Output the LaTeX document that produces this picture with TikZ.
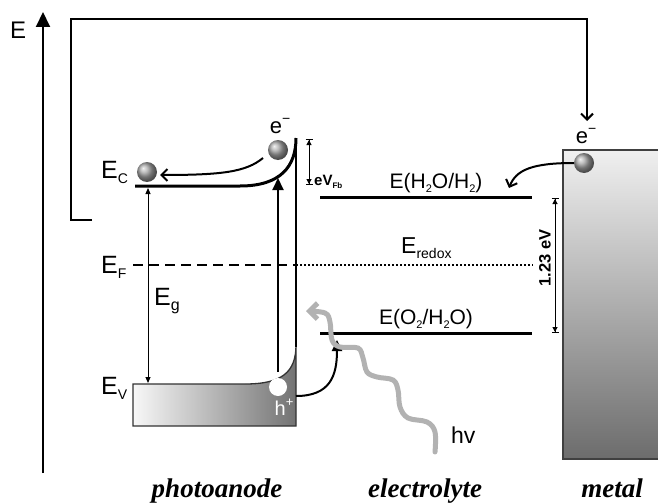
\documentclass[tikz,border=0pt]{standalone}
\usepackage{fontspec}
\setmainfont{Liberation Sans}
\newfontfamily\regionfont{Liberation Serif}
\usetikzlibrary{arrows.meta,shadings}
\newcommand\mysub[2]{\raisebox{-0.22em}{\fontsize{#1}{#1}\selectfont #2}}
\newcommand\mysup[2]{\raisebox{0.42em}{\fontsize{#1}{#1}\selectfont #2}}
\begin{document}
\begin{tikzpicture}[x=1pt,y=-1pt,
  lab/.style={font=\fontsize{21}{24}\selectfont, inner sep=0pt},
  biglab/.style={font=\fontsize{25}{28}\selectfont, inner sep=0pt, anchor=base west},
  elab/.style={font=\fontsize{22}{24}\selectfont, inner sep=0pt, anchor=base},
  region/.style={font=\regionfont\bfseries\itshape\fontsize{27}{30}\selectfont, inner sep=0pt, anchor=base},
  level/.style={line width=3pt},
  ball/.style={circle, shading=ball, ball color=gray!70, minimum size=20pt, inner sep=0pt},
  barb/.style={-{Straight Barb[length=6pt,width=12pt,line width=2pt]}},
  dimarr/.style={line width=1pt, {Bar[width=7pt]Triangle[length=5pt,width=5pt]}-{Triangle[length=5pt,width=5pt]Bar[width=7pt]}},
]
\useasboundingbox (0,0) rectangle (658,503);

% energy axis
\coordinate (axB) at (43,473);
\coordinate (axT) at (43,12);
\draw[line width=2pt, -{Triangle[length=15pt,width=14pt]}] (axB) -- (axT);
\node[font=\fontsize{24}{26}\selectfont, inner sep=0pt, anchor=base west] (Elab) at (10,39) {E};

% external circuit
\coordinate (c0) at (92,220);
\coordinate (c1) at (71,220);
\coordinate (c2) at (71,19);
\coordinate (c3) at (587,19);
\coordinate (c4) at (587,121);
\draw[line width=2pt, barb] (c0) -- (c1) -- (c2) -- (c3) -- (c4);

% metal
\path[top color=gray!12, bottom color=gray!85!black] (563,150) rectangle (665,459);
\draw[line width=1.5pt, black!75] (563,150) rectangle (665,459);
\node[ball] (b3) at (584,163) {};
\node[elab] (em) at (586,143) {e\mysup{14}{−}};

% valence band block
\path[left color=gray!6, right color=gray!90!black]
  (133,384) -- (245,384) .. controls (282,384) and (296,372) .. (296,345) -- (296,426) -- (133,426) -- cycle;
\draw[line width=1.3pt, black!80]
  (133,384) -- (245,384) .. controls (282,384) and (296,372) .. (296,345) -- (296,426) -- (133,426) -- cycle;

% semiconductor surface
\coordinate (sT) at (296,138);
\coordinate (sB) at (296,347);
\draw[line width=2pt] (sT) -- (sB);

% conduction band
\coordinate (ecL) at (135,186);
\coordinate (ecK) at (240,186);
\draw[level] (ecL) -- (ecK) .. controls (281,186) and (296,166) .. (sT);

% Fermi level / redox
\coordinate (fL) at (133,265);
\coordinate (fM) at (296,265);
\coordinate (fR) at (533,265);
\draw[line width=2pt, dash pattern=on 10pt off 6pt] (fL) -- (fM);
\draw[line width=1.5pt, dash pattern=on 2pt off 2pt] (fM) -- (fR);

% labels of semiconductor
\node[biglab] (EC) at (101,178) {E\mysub{14}{C}};
\node[biglab] (EF) at (101,273) {E\mysub{14}{F}};
\node[biglab] (EV) at (101,394) {E\mysub{14}{V}};
\node[biglab] (Eg) at (154,305) {E\mysub{16}{g}};

% band gap arrow
\coordinate (gT) at (148,188);
\coordinate (gB) at (148,383);
\draw[line width=1pt, {Triangle[length=6pt,width=5pt]}-{Triangle[length=6pt,width=5pt]}] (gT) -- (gB);

% excitation arrow
\coordinate (xB) at (278,372);
\coordinate (xT) at (278,178);
\draw[line width=2pt, -{Triangle[length=12pt,width=11pt]}] (xB) -- (xT);

% electrons
\node[ball] (b1) at (147,172) {};
\node[ball] (b2) at (278,150) {};
\node[elab] (eTop) at (280,133) {e\mysup{14}{−}};
\coordinate (e1s) at (263,158);
\coordinate (e1e) at (160,175);
\draw[line width=2pt, barb] (e1s) .. controls (246,172) and (222,175) .. (e1e);

% hole
\node[circle, fill=white, minimum size=18pt, inner sep=0pt] (h) at (278,387) {};
\node[font=\fontsize{20}{22}\selectfont, inner sep=0pt, anchor=base, white] (hl) at (284,415) {h\mysup{13}{+}};
\coordinate (hs) at (296,396);
\coordinate (he) at (337,340);
\draw[line width=2pt, -{Triangle[length=11pt,width=10pt]}] (hs) .. controls (330,396) and (337,376) .. (he);

% eV_Fb
\coordinate (vT) at (309,139);
\coordinate (vB) at (309,185);
\draw[dimarr] (vT) -- (vB);
\node[font=\bfseries\fontsize{15}{17}\selectfont, inner sep=0pt, anchor=base west] (vfb) at (314,185) {eV\mysub{8}{Fb}};

% redox levels
\coordinate (hL) at (320,197);
\coordinate (hR) at (532,197);
\draw[level] (hL) -- (hR);
\node[lab, anchor=base] (h2) at (436,188) {E(H\mysub{11}{2}O/H\mysub{11}{2})};
\coordinate (oL) at (320,333);
\coordinate (oR) at (532,333);
\draw[level] (oL) -- (oR);
\node[lab, anchor=base] (o2) at (426,324) {E(O\mysub{11}{2}/H\mysub{11}{2}O)};
\node[font=\fontsize{23}{25}\selectfont, inner sep=0pt, anchor=base west] (Er) at (401,253) {E\mysub{14}{redox}};

% 1.23 eV
\coordinate (dT) at (555,198);
\coordinate (dB) at (555,333);
\draw[dimarr] (dT) -- (dB);
\node[rotate=90, font=\bfseries\fontsize{16.5}{18}\selectfont, inner sep=0pt] (d123) at (545,258) {1.23 eV};

% electron transfer from metal
\coordinate (me) at (509,188);
\draw[line width=2pt, barb] (b3.west) .. controls (532,163) and (516,170) .. (me);

% light
\draw[line width=5pt, gray!60, line cap=round, -{Straight Barb[length=8pt,width=16pt,line width=5pt]}]
  plot[smooth, tension=0.6] coordinates {(435,452) (435,432) (427,422) (408,418) (400,407) (398,390) (393,380) (377,377) (367,372) (363,358) (358,348) (340,347) (332,340) (330,322) (325,313) (306,311)};
\node[font=\fontsize{23}{25}\selectfont, inner sep=0pt, anchor=base west] (hv) at (451,443) {hv};

% region labels
\node[region] (pa) at (217,497) {photoanode};
\node[region] (el) at (425,497) {electrolyte};
\node[region] (mt) at (612,497) {metal};
\end{tikzpicture}
\end{document}
